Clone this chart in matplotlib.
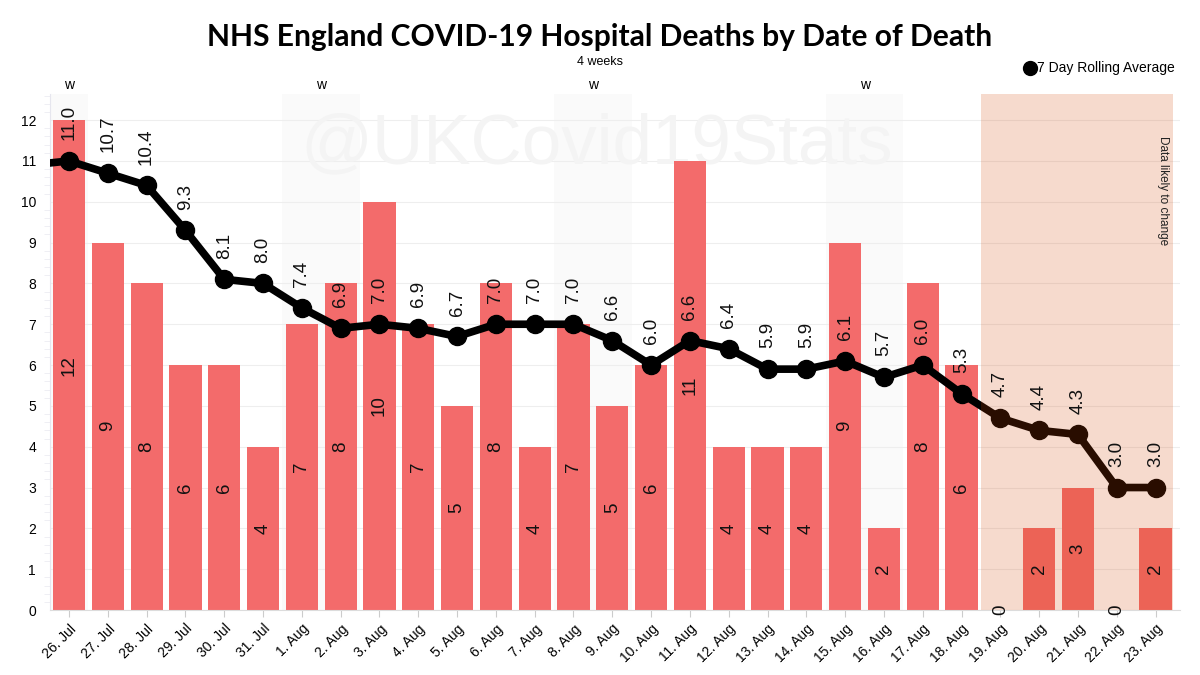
import matplotlib
matplotlib.use("Agg")
import matplotlib.pyplot as plt
from matplotlib.ticker import MultipleLocator
import numpy as np

dates = ["26. Jul", "27. Jul", "28. Jul", "29. Jul", "30. Jul", "31. Jul",
         "1. Aug", "2. Aug", "3. Aug", "4. Aug", "5. Aug", "6. Aug", "7. Aug",
         "8. Aug", "9. Aug", "10. Aug", "11. Aug", "12. Aug", "13. Aug",
         "14. Aug", "15. Aug", "16. Aug", "17. Aug", "18. Aug", "19. Aug",
         "20. Aug", "21. Aug", "22. Aug", "23. Aug"]
deaths = [12, 9, 8, 6, 6, 4, 7, 8, 10, 7, 5, 8, 4, 7, 5, 6, 11, 4, 4, 4,
          9, 2, 8, 6, 0, 2, 3, 0, 2]
rolling = [11.0, 10.7, 10.4, 9.3, 8.1, 8.0, 7.4, 6.9, 7.0, 6.9, 6.7, 7.0,
           7.0, 7.0, 6.6, 6.0, 6.6, 6.4, 5.9, 5.9, 6.1, 5.7, 6.0, 5.3, 4.7,
           4.4, 4.3, 3.0, 3.0]
rolling_prev = 10.9  # 25. Jul, off the left edge
weekend_days = ["26. Jul", "1. Aug", "2. Aug", "8. Aug", "9. Aug", "15. Aug", "16. Aug"]
provisional_from = "19. Aug"

FONT = "Liberation Sans"
BAR = "#f36b6b"

fig = plt.figure(figsize=(12, 6.75), dpi=100)
ax = fig.add_axes([50/1200, 1-610/675, (1180-50)/1200, (610-94)/675])

x = np.arange(len(dates))
xmin, xmax = -0.49, 28.63
ax.set_xlim(xmin, xmax)
ax.set_ylim(0, 12.64)

# weekend bands
wk_idx = [dates.index(d) for d in weekend_days]
groups = []
for i in wk_idx:
    if groups and i == groups[-1][-1] + 1:
        groups[-1].append(i)
    else:
        groups.append([i])
for g in groups:
    lo = max(g[0] - 0.5, xmin)
    hi = g[-1] + 0.5
    ax.axvspan(lo, hi, color="#fafafa", zorder=0, lw=0)
    ax.text((lo + hi) / 2, 1.004, "w", transform=ax.get_xaxis_transform(),
            ha="center", va="bottom", fontsize=10, family=FONT)

# gridlines
ax.set_axisbelow(True)
ax.yaxis.set_major_locator(MultipleLocator(1))
ax.yaxis.set_minor_locator(MultipleLocator(0.2))
ax.grid(axis="y", which="major", color="#eeeeee", lw=0.8, zorder=0.5)

# watermark
ax.text(0.484, 0.9, "@UKCovid19Stats", transform=ax.transAxes, ha="center",
        va="center", fontsize=51, color="#f4f4f4", family=FONT, zorder=0.6)

# bars
ax.bar(x, deaths, width=0.83, color=BAR, zorder=2)
for xi, v in zip(x, deaths):
    ax.text(xi, v / 2, str(v), rotation=90, ha="center", va="center",
            fontsize=13.5, family=FONT, color="#111111", zorder=6)

# rolling average line
lx = np.concatenate([[-1], x])
ly = np.concatenate([[rolling_prev], rolling])
ax.plot(lx, ly, color="black", lw=5.5, zorder=3, solid_capstyle="butt")
ax.plot(x, rolling, "o", color="black", ms=13, zorder=3)
for xi, v in zip(x, rolling):
    ax.annotate(f"{v:.1f}", (xi, v), xytext=(0, 15), textcoords="offset points",
                rotation=90, ha="center", va="bottom", fontsize=13.5,
                family=FONT, color="#111111", zorder=6)

# provisional shading (overlay)
p0 = dates.index(provisional_from) - 0.5
ax.axvspan(p0, len(dates) - 0.55, color="#d24605", alpha=0.2, lw=0, zorder=4)
ax.text(len(dates) - 0.8, 11.6, "Data likely to change", rotation=-90,
        ha="center", va="top", fontsize=8.5, family=FONT, color="#222222", zorder=6)

# axes styling
for s in ["top", "right"]:
    ax.spines[s].set_visible(False)
ax.spines["left"].set_color("#e6e6ee")
ax.spines["bottom"].set_color("#dcdcdc")
ax.tick_params(axis="y", which="major", length=0, labelsize=10, pad=10)
ax.tick_params(axis="y", which="minor", length=4, color="#ececf2")
ax.tick_params(axis="x", length=5, color="#cccccc", labelsize=10)
ax.set_xticks(x)
ax.set_xticklabels(dates, rotation=45, ha="right", rotation_mode="anchor",
                   family=FONT)
for lab in ax.get_yticklabels():
    lab.set_family(FONT)

# title / subtitle
fig.text(0.5, 1 - 37/675, "NHS England COVID-19 Hospital Deaths by Date of Death",
         ha="center", va="center", fontsize=21.6, fontweight="bold", family="Lato")
fig.text(0.5, 1 - 62/675, "4 weeks", ha="center", va="center", fontsize=9,
         family=FONT)

# legend
fig.lines.append(plt.Line2D([1030/1200], [1 - 68/675], marker="o", ms=10,
                            color="black", transform=fig.transFigure))
fig.text(1037/1200, 1 - 68/675, "7 Day Rolling Average", ha="left",
         va="center", fontsize=10, family=FONT)

fig.savefig("out.png", dpi=100)
